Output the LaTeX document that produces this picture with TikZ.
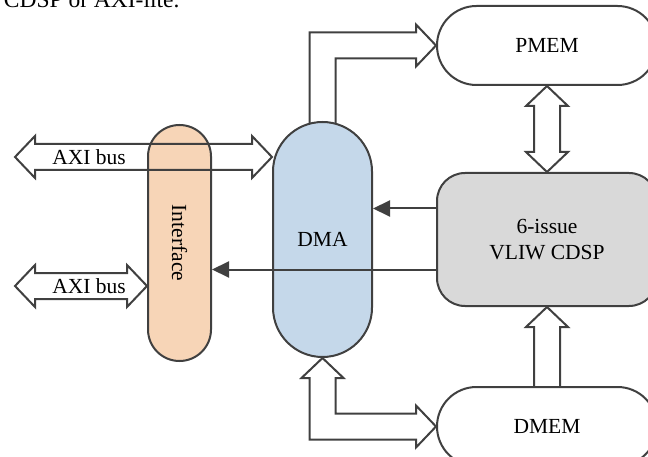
\documentclass[tikz,border=0pt]{standalone}
\usepackage{fontspec}
\setmainfont{Liberation Serif}
\usetikzlibrary{positioning,calc,arrows.meta,backgrounds}

\definecolor{edgegray}{HTML}{404040}
\definecolor{dmablue}{HTML}{C5D8EA}
\definecolor{ifpeach}{HTML}{F7D5B7}
\definecolor{coregray}{HTML}{D9D9D9}

\tikzset{
  unit/.style={draw=edgegray, line width=2pt, inner sep=0pt, align=center},
  mem/.style={unit, fill=white, minimum width=220pt, minimum height=79pt,
    rounded corners=39.5pt},
  blk/.style={draw=edgegray, line width=2pt, line join=miter},
  wire/.style={draw=edgegray, line width=2pt,
    -{Triangle[length=17pt,width=16pt]}},
}

\begin{document}
\begin{tikzpicture}[x=1pt, y=-1pt, font=\fontsize{21.5}{26}\selectfont]

    \useasboundingbox (0,0) rectangle (648,457);
    \clip (0,0) rectangle (648,457);

    % Define nodes
    \node[anchor=base east, font=\fontsize{23.5}{28}\selectfont]
                                           (cap) at (183,8) {CDSP or AXI-lite.};
    \node[unit, fill=ifpeach, minimum width=63pt, minimum height=236pt,
          rounded corners=31.5pt]          (iface) at (179.5,243) {};
    \node[rotate=-90]                      (iface-txt) at (iface) {Interface};
    \node[unit, fill=dmablue, minimum width=99pt, minimum height=235pt,
          rounded corners=49.5pt]          (dma) at (322.5,239.5) {DMA};
    \node[unit, fill=coregray, minimum width=220pt, minimum height=133pt,
          rounded corners=28pt]            (cdsp) at (547,239.5) {6-issue\\VLIW CDSP};
    \node[mem, above=86pt of cdsp]         (pmem) {PMEM};
    \node[mem, below=79pt of cdsp]         (dmem) {DMEM};

    \coordinate (bus1) at (15,157);
    \coordinate (bus2) at (15,286);
    \coordinate (bus1-r) at (dma.west |- bus1);
    \coordinate (bus2-r) at (iface.west |- bus2);
    \node (bus1-txt) at (89,157) {AXI bus};
    \node (bus2-txt) at (89,286) {AXI bus};

    % DMA to PMEM, shaft runs under the DMA
    \begin{scope}[on background layer]
      \draw[blk] ($(dma.north)+(-13,10)$) |- ($(pmem.west)+(-20,-13)$) -- ++(0,-8)
        -- (pmem.west) -- ++(-20,21) -- ++(0,-8) -| ($(dma.north)+(13,10)$);
    \end{scope}

    % DMA <-> DMEM
    \draw[blk] (dma.south) -- ++(-21,20) -- ++(8,0) |- ($(dmem.west)+(-20,13)$)
      -- ++(0,8) -- (dmem.west) -- ++(-20,-21) -- ++(0,8)
      -| ($(dma.south)+(13,20)$) -- ++(8,0) -- cycle;

    % PMEM <-> CDSP
    \draw[blk] (pmem.south) -- ++(-21,20) -- ++(8,0) -- ($(cdsp.north)+(-13,-20)$)
      -- ++(-8,0) -- (cdsp.north) -- ++(21,-20) -- ++(-8,0)
      -- ($(pmem.south)+(13,20)$) -- ++(8,0) -- cycle;

    % DMEM -> CDSP
    \draw[blk] ($(dmem.north)+(-13,0)$) -- ($(cdsp.south)+(-13,20)$) -- ++(-8,0)
      -- (cdsp.south) -- ++(21,20) -- ++(-8,0) -- ($(dmem.north)+(13,0)$);

    % AXI buses
    \draw[blk] (bus1) -- ++(20,-21) -- ++(0,8) -- ($(bus1-r)+(-20,-13)$) -- ++(0,-8)
      -- (bus1-r) -- ++(-20,21) -- ++(0,-8) -- ($(bus1)+(20,13)$) -- ++(0,8) -- cycle;
    \draw[blk] (bus2) -- ++(20,-21) -- ++(0,8) -- ($(bus2-r)+(-20,-13)$) -- ++(0,-8)
      -- (bus2-r) -- ++(-20,21) -- ++(0,-8) -- ($(bus2)+(20,13)$) -- ++(0,8) -- cycle;

    % Control lines from the core
    \coordinate (ctl1) at ([yshift=31pt]cdsp.west);
    \coordinate (ctl2) at ([yshift=-30pt]cdsp.west);
    \draw[wire] (ctl1) -- (dma.east |- ctl1);
    \draw[wire] (ctl2) -- (iface.east |- ctl2);

\end{tikzpicture}
\end{document}
